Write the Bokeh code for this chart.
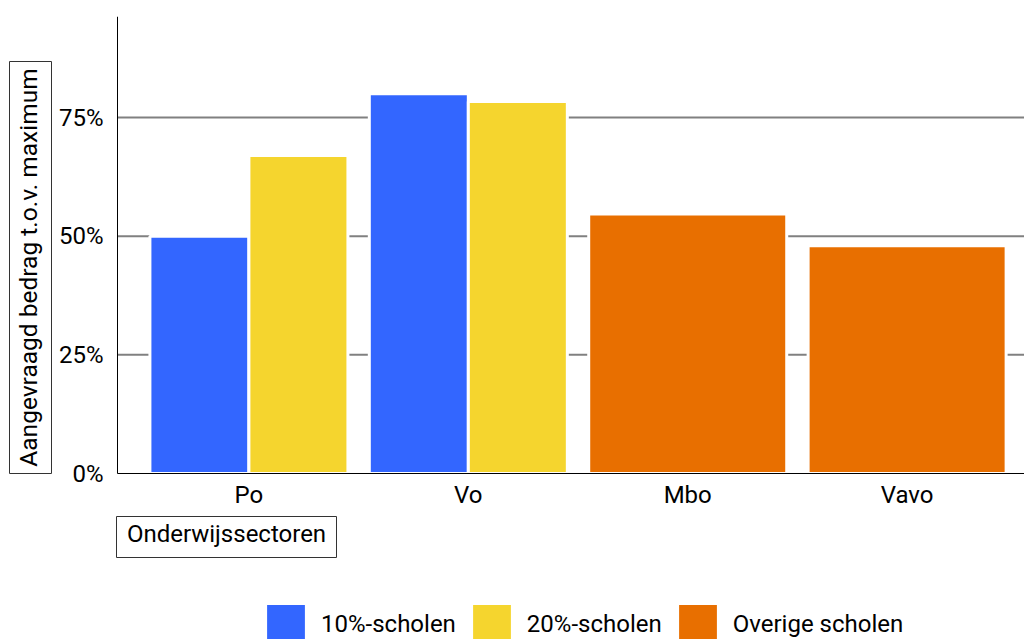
import math
from bokeh.plotting import figure
from bokeh.models import (Range1d, FixedTicker, NumeralTickFormatter,
                          Legend, LegendItem, BoxAnnotation)
from bokeh.core.properties import value
from bokeh.embed import file_html
from bokeh.resources import INLINE

categories = ["Po", "Vo", "Mbo", "Vavo"]
tien_procent = [0.50, 0.80, None, None]
twintig_procent = [0.67, 0.784, None, None]
overige = [None, None, 0.547, 0.48]
y_ticks = [0, 0.25, 0.5, 0.75]
grid_ticks = [0.25, 0.5, 0.75]

series_names = ["10%-scholen", "20%-scholen", "Overige scholen"]
colors = ["#3366FF", "#F5D52E", "#E86F00"]
x_title = "Onderwijssectoren"
y_title = "Aangevraagd bedrag t.o.v. maximum"

FONT = "Roboto"
FS = "24px"
BOX = "#333333"

# layout constants (page pixels)
W, H = 1024, 639
AX_X, AX_Y, TOP_Y = 117, 473, 16
PX_X = 219.4                  # pixels per category
PX_Y = (AX_Y - TOP_Y) / 0.963  # pixels per unit of fraction

X0 = -0.099                    # data x at the y axis
X1 = X0 + (W - AX_X) / PX_X


def dx(px):
    return X0 + (px - AX_X) / PX_X


def dy(py):
    return (AX_Y - py) / PX_Y


p = figure(width=W, height=H, output_backend="svg", toolbar_location=None,
           x_range=Range1d(dx(0), dx(W)), y_range=Range1d(dy(H), dy(TOP_Y)),
           min_border_left=0, min_border_right=0, min_border_top=TOP_Y, min_border_bottom=0)
p.outline_line_color = None
p.background_fill_color = "white"
p.xgrid.grid_line_color = None
p.ygrid.grid_line_color = None

# horizontal grid lines, only across the plotting area
p.segment(x0=[X0] * len(grid_ticks), x1=[X1] * len(grid_ticks), y0=grid_ticks, y1=grid_ticks,
          line_color="#808080", line_width=2)

full_w = 0.9025
half_w = full_w / 2


def collect(values, offset):
    xs, ys = [], []
    for i, v in enumerate(values):
        if v is not None:
            xs.append(i + 0.5 + offset)
            ys.append(v)
    return xs, ys


xs, ys = collect(tien_procent, -half_w / 2)
r1 = p.vbar(x=xs, top=ys, width=half_w, bottom=0, fill_color=colors[0],
            line_color="white", line_width=3)
xs, ys = collect(twintig_procent, half_w / 2)
r2 = p.vbar(x=xs, top=ys, width=half_w, bottom=0, fill_color=colors[1],
            line_color="white", line_width=3)
xs, ys = collect(overige, 0)
r3 = p.vbar(x=xs, top=ys, width=full_w, bottom=0, fill_color=colors[2],
            line_color="white", line_width=3)

# axes pinned inside the frame
yax = p.yaxis[0]
xax = p.xaxis[0]
yax.fixed_location = X0
xax.fixed_location = 0
yax.bounds = (0, dy(TOP_Y))
xax.bounds = (X0, X1)
yax.ticker = FixedTicker(ticks=y_ticks)
yax.formatter = NumeralTickFormatter(format="0%")
xax.ticker = FixedTicker(ticks=[i + 0.5 for i in range(len(categories))])
xax.major_label_overrides = {i + 0.5: c for i, c in enumerate(categories)}
for ax in (xax, yax):
    ax.major_tick_line_color = None
    ax.minor_tick_line_color = None
    ax.major_tick_out = 0
    ax.major_tick_in = 0
    ax.axis_line_color = "black"
    ax.axis_line_width = 1
    ax.major_label_text_font = FONT
    ax.major_label_text_font_size = FS
    ax.major_label_text_color = "black"
yax.major_label_standoff = 14
xax.major_label_standoff = 7

# boxed axis titles
p.add_layout(BoxAnnotation(left=dx(9), right=dx(51), bottom=dy(473), top=dy(61),
                           fill_alpha=0, line_color=BOX, line_alpha=1, line_width=1))
p.text(x=[dx(27.5)], y=[dy(267)], text=[y_title], angle=math.pi / 2,
       text_align="center", text_baseline="alphabetic",
       text_font=value(FONT), text_font_size="24.5px", text_color="black")

p.add_layout(BoxAnnotation(left=dx(116), right=dx(336), bottom=dy(557), top=dy(516),
                           fill_alpha=0, line_color=BOX, line_alpha=1, line_width=1))
p.text(x=[dx(226)], y=[dy(533.5)], text=[x_title],
       text_align="center", text_baseline="alphabetic",
       text_font=value(FONT), text_font_size=FS, text_color="black")

legend = Legend(items=[LegendItem(label=n, renderers=[r]) for n, r in zip(series_names, [r1, r2, r3])],
                orientation="horizontal", location=(260, -10),
                glyph_width=51, glyph_height=51, label_standoff=10, spacing=10,
                padding=0, margin=0, border_line_color=None, background_fill_alpha=0,
                label_text_font=FONT, label_text_font_size=FS, label_text_color="black")
p.add_layout(legend, "center")

open("out.html", "w").write(file_html(p, INLINE))
